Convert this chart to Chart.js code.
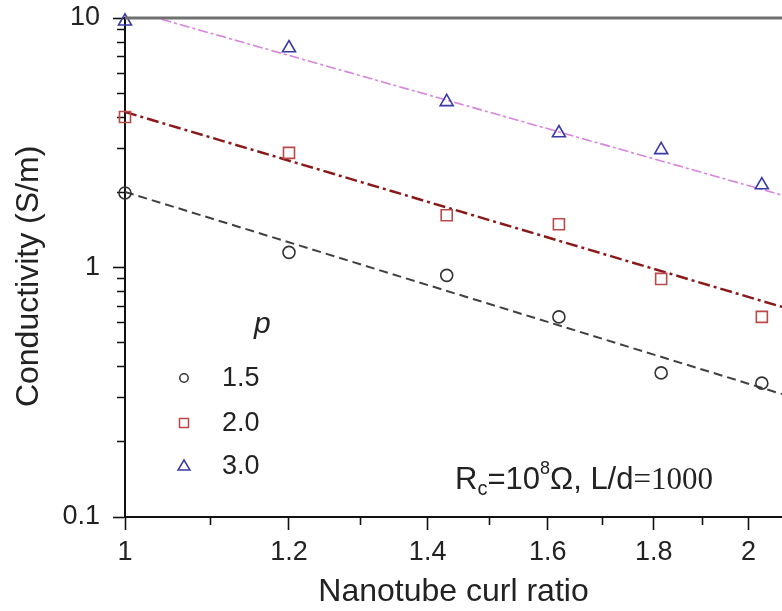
<!DOCTYPE html>
<html>
<head>
<meta charset="utf-8">
<script src="https://cdn.jsdelivr.net/npm/chart.js@4.4.1/dist/chart.umd.min.js"></script>
<style>
  html, body { margin: 0; padding: 0; background: #fff; }
  #wrap { width: 782px; height: 611px; }
</style>
</head>
<body>
<div id="wrap"><canvas id="chart" width="782" height="611"></canvas></div>
<script>
// data
const curlRatio = [1, 1.2, 1.43, 1.62, 1.815, 2.03];
const sigmaP15 = [1.99, 1.15, 0.93, 0.634, 0.378, 0.344];
const sigmaP20 = [4.01, 2.88, 1.62, 1.49, 0.90, 0.634];
const sigmaP30 = [9.7, 7.58, 4.61, 3.46, 2.96, 2.14];

// fitted lines, end points only
const fitX = [1, 2.076];
const fitP15 = [2.01, 0.311];
const fitP20 = [4.20, 0.695];
const fitP30 = [10.87, 1.95];

const legendLabels = ["1.5", "2.0", "3.0"];

const xTickVals = [1, 1.1, 1.2, 1.3, 1.4, 1.5, 1.6, 1.7, 1.8, 1.9, 2.0];
const xMajor = [1, 1.2, 1.4, 1.6, 1.8, 2];
const yTickVals = [0.1, 0.2, 0.3, 0.4, 0.5, 0.6, 0.7, 0.8, 0.9, 1, 2, 3, 4, 5, 6, 7, 8, 9, 10];
const yMajor = [0.1, 1, 10];

const isIn = (v, arr) => arr.some(m => Math.abs(m - v) < 1e-6);
const pts = (xs, ys) => xs.map((x, i) => ({ x, y: ys[i] }));

const SANS = "'Liberation Sans', Arial, sans-serif";
const SERIF = "'Liberation Serif', 'Times New Roman', serif";

function markerSet(label, ys, style, color, r) {
    return {
        label, data: pts(curlRatio, ys), showLine: false,
        pointStyle: style, pointRadius: r, pointBorderWidth: 1.6,
        borderColor: color, backgroundColor: "rgba(0,0,0,0)",
        pointBorderColor: color, pointBackgroundColor: "rgba(0,0,0,0)",
        clip: false, isMarker: true
    };
}
function fitSet(ys, color, width, dash) {
    return {
        label: "fit", data: pts(fitX, ys), showLine: true, pointRadius: 0,
        borderColor: color, borderWidth: width, borderDash: dash, fill: false
    };
}

// frame top line, legend, annotation
const decorations = {
    id: "decorations",
    afterDraw(chart) {
        const { ctx, chartArea: a } = chart;
        ctx.save();
        ctx.strokeStyle = "#707070";
        ctx.lineWidth = 3;
        ctx.beginPath();
        ctx.moveTo(a.left, a.top);
        ctx.lineTo(chart.width, a.top);
        ctx.stroke();

        // legend
        ctx.fillStyle = "#222";
        ctx.font = "italic 30px " + SANS;
        ctx.textBaseline = "alphabetic";
        ctx.fillText("p", 254, 333);

        const markers = chart.data.datasets.filter(d => d.isMarker);
        const rowY = [378, 423, 466];
        markers.forEach((d, i) => {
            const x = 184, y = rowY[i];
            ctx.strokeStyle = d.borderColor;
            ctx.lineWidth = 1.5;
            ctx.beginPath();
            if (d.pointStyle === "circle") {
                ctx.arc(x, y, 4.2, 0, Math.PI * 2);
            } else if (d.pointStyle === "rect") {
                ctx.rect(x - 4.5, y - 4.5, 9, 9);
            } else {
                ctx.moveTo(x, y - 6);
                ctx.lineTo(x + 6, y + 4);
                ctx.lineTo(x - 6, y + 4);
                ctx.closePath();
            }
            ctx.stroke();
            ctx.fillStyle = "#222";
            ctx.font = "27px " + SANS;
            ctx.textBaseline = "middle";
            ctx.fillText(legendLabels[i], 222, y + 1);
        });

        // Rc=10^8 Ohm, L/d=1000
        ctx.textBaseline = "alphabetic";
        let x = 455;
        const base = 489;
        const put = (t, font, dy) => {
            ctx.font = font;
            ctx.fillText(t, x, base + dy);
            x += ctx.measureText(t).width;
        };
        put("R", "31px " + SANS, 0);
        put("c", "20px " + SANS, 6);
        put("=10", "31px " + SANS, 0);
        put("8", "18px " + SANS, -15);
        put("\u03A9, L/d", "31px " + SANS, 0);
        put("=1000", "31px " + SERIF, 0);
        ctx.restore();
    }
};

new Chart(document.getElementById("chart"), {
    type: "scatter",
    data: {
        datasets: [
            markerSet("1.5", sigmaP15, "circle", "#333333", 6),
            markerSet("2.0", sigmaP20, "rect", "#b94a48", 7.8),
            markerSet("3.0", sigmaP30, "triangle", "#3a3aa6", 7.5),
            fitSet(fitP15, "#404040", 2, [9, 5]),
            fitSet(fitP20, "#8a1a1a", 2.5, [12, 4, 3, 4]),
            fitSet(fitP30, "#d884dc", 1.6, [10, 3, 3, 3])
        ]
    },
    options: {
        responsive: false,
        animation: false,
        layout: { autoPadding: false, padding: { top: 18, right: 0, bottom: 0, left: 0 } },
        plugins: { legend: { display: false }, tooltip: { enabled: false } },
        scales: {
            x: {
                type: "logarithmic",
                min: 1,
                max: 2.076,
                afterBuildTicks: s => { s.ticks = xTickVals.map(v => ({ value: v })); },
                afterFit: s => { s.height = 94; s.paddingLeft = 0; s.paddingRight = 0; },
                border: { color: "#111", width: 2 },
                grid: {
                    drawOnChartArea: false,
                    tickLength: 13,
                    tickWidth: 1.6,
                    tickColor: "#111",
                    tickBorderDash: c => isIn(c.tick.value, xMajor) ? [] : [7, 100]
                },
                ticks: {
                    autoSkip: false,
                    maxRotation: 0,
                    padding: 6,
                    color: "#222",
                    font: { family: SANS, size: 27 },
                    callback: v => isIn(v, xMajor) ? String(Number(v.toFixed(1))) : ""
                },
                title: {
                    display: true,
                    text: "Nanotube curl ratio",
                    color: "#222",
                    font: { family: SANS, size: 32 },
                    padding: { top: 0, bottom: 0 }
                }
            },
            y: {
                type: "logarithmic",
                min: 0.1,
                max: 10,
                afterBuildTicks: s => { s.ticks = yTickVals.map(v => ({ value: v })); },
                afterFit: s => { s.width = 125; s.paddingTop = 0; s.paddingBottom = 0; },
                border: { color: "#111", width: 2 },
                grid: {
                    drawOnChartArea: false,
                    tickLength: 12,
                    tickWidth: 1.6,
                    tickColor: "#111",
                    tickBorderDash: c => isIn(c.tick.value, yMajor) ? [] : [0, 4, 7, 100]
                },
                ticks: {
                    autoSkip: false,
                    padding: 13,
                    color: "#222",
                    font: { family: SANS, size: 27 },
                    callback: v => isIn(v, yMajor) ? String(v) : ""
                },
                title: {
                    display: true,
                    text: "Conductivity (S/m)  ",
                    color: "#222",
                    font: { family: SANS, size: 32 },
                    padding: { top: 10, bottom: 0 }
                }
            }
        }
    },
    plugins: [decorations]
});
</script>
</body>
</html>
